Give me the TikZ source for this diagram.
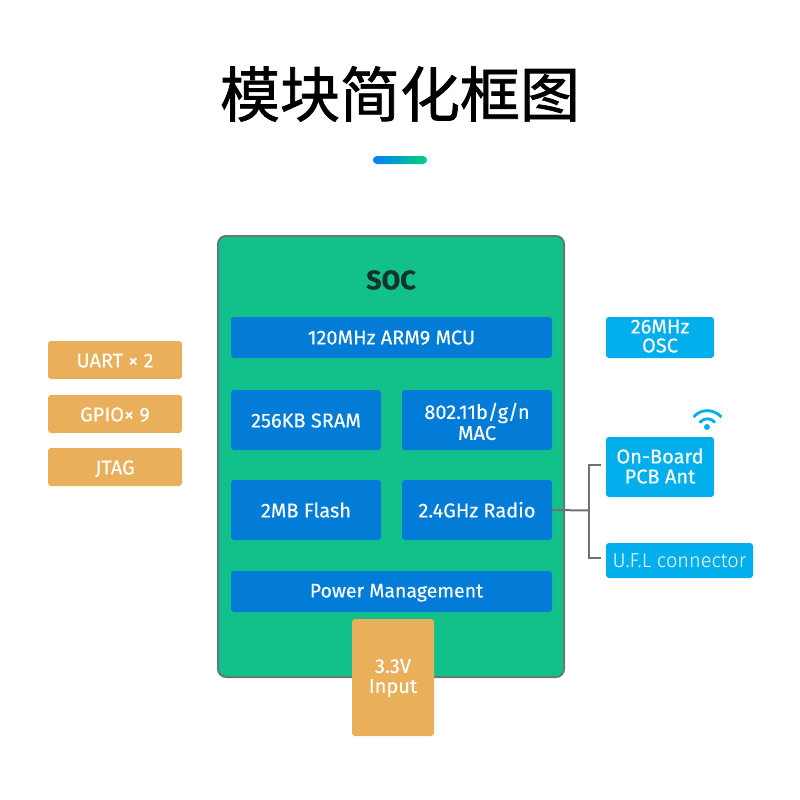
\documentclass[tikz,border=0pt]{standalone}
\usepackage{fontspec}
\setmainfont{Fira Sans}[FakeBold=0.25]
\newfontfamily\cjk{Noto Sans CJK SC}[FakeBold=1.2]
\newfontfamily\lightface{Fira Sans Light}
\definecolor{socgreen}{HTML}{12C18A}
\definecolor{socedge}{HTML}{64797A}
\definecolor{blockblue}{HTML}{027CD7}
\definecolor{lightblue}{HTML}{02AEEC}
\definecolor{sand}{HTML}{E9AF5A}
\definecolor{wire}{HTML}{6D7278}
\definecolor{barleft}{HTML}{0080F5}
\definecolor{barright}{HTML}{00D27F}
\definecolor{soctext}{HTML}{10342C}
\newcommand\drop[2][8pt]{\raisebox{-#1}[0pt][0pt]{\begin{tabular}{@{}c@{}}#2\end{tabular}}}
\tikzset{
  blk/.style 2 args={minimum width=#1pt,minimum height=#2pt,inner sep=0pt,outer sep=0pt,rounded corners=3pt,text=white,align=center,
    font=\fontsize{20}{23}\selectfont},
  bluebox/.style 2 args={blk={#1}{#2},fill=blockblue},
  cyanbox/.style 2 args={blk={#1}{#2},fill=lightblue},
  sandbox/.style 2 args={blk={#1}{#2},fill=sand},
  wireline/.style={draw=wire,line width=2pt},
  wifi/.style={draw=lightblue,line width=2.8pt}
}
\begin{document}
\begin{tikzpicture}[x=1pt,y=-1pt]
\useasboundingbox (0,0) rectangle (800,800);
\node[inner sep=0pt,font=\fontsize{60}{60}\selectfont\cjk] (title) at (400,94) {模块简化框图};
\shade[left color=barleft,right color=barright,rounded corners=4pt] (373,156) rectangle (427,164);
\node[minimum width=346pt,minimum height=441pt,inner sep=0pt,fill=socgreen,draw=socedge,line width=2pt,rounded corners=8pt] (soc) at (391,456.5) {};
\node[text=soctext,font=\fontsize{27}{28}\selectfont\bfseries] (soclabel) at (391,280) {SOC};
\node[bluebox={321}{41}] (mcu) at (391.5,337.5) {\drop[7.5pt]{120MHz ARM9 MCU}};
\node[bluebox={150}{60}] (sram) at (306,420) {\drop{256KB SRAM}};
\node[bluebox={150}{60}] (mac) at (477,420) {\drop[10pt]{802.11b/g/n\\[-2pt]MAC}};
\node[bluebox={150}{60}] (flash) at (306,510) {\drop{2MB Flash}};
\node[bluebox={150}{60}] (radio) at (477,510) {\drop{2.4GHz Radio}};
\node[bluebox={321}{41}] (power) at (391.5,591.5) {\hspace*{10pt}\drop[6.5pt]{\fontsize{19.5}{23}\selectfont Power Management}};
\node[sandbox={82}{117}] (input) at (393,677.5) {\drop[6pt]{3.3V\\[-3pt]Input}};
\node[sandbox={134}{38}] (uart) at (115,360) {\drop{UART × 2}};
\node[sandbox={134}{38}] (gpio) at (115,414) {\drop{GPIO× 9}};
\node[sandbox={134}{38}] (jtag) at (115,467) {\drop{JTAG}};
\node[cyanbox={108}{41}] (osc) at (660,337.5) {\drop[6pt]{26MHz\\[-4pt]OSC}};
\node[cyanbox={108}{60}] (ant) at (660,467) {\drop[7pt]{On-Board\\[-3pt]PCB Ant}};
\node[cyanbox={147}{35}] (ufl) at (679.5,560.5) {\drop{\lightface U.F.L connector}};
\coordinate (antend) at (601,465);
\coordinate (uflend) at (601,558);
\coordinate (forktop) at (589,465);
\coordinate (forkbot) at (589,558);
\coordinate (fork) at (589,510.5);
\draw[wireline] (radio.east) -- (fork);
\draw[wireline] (antend) -- (forktop) -- (forkbot) -- (uflend);
\fill[lightblue] (707,427) circle (3pt);
\draw[wifi] (693.5,417) .. controls (701,408.5) and (713,408.5) .. (721.5,417);
\draw[wifi] (699.5,422.5) .. controls (704,417.5) and (711,417.5) .. (715,422.5);
\end{tikzpicture}
\end{document}
